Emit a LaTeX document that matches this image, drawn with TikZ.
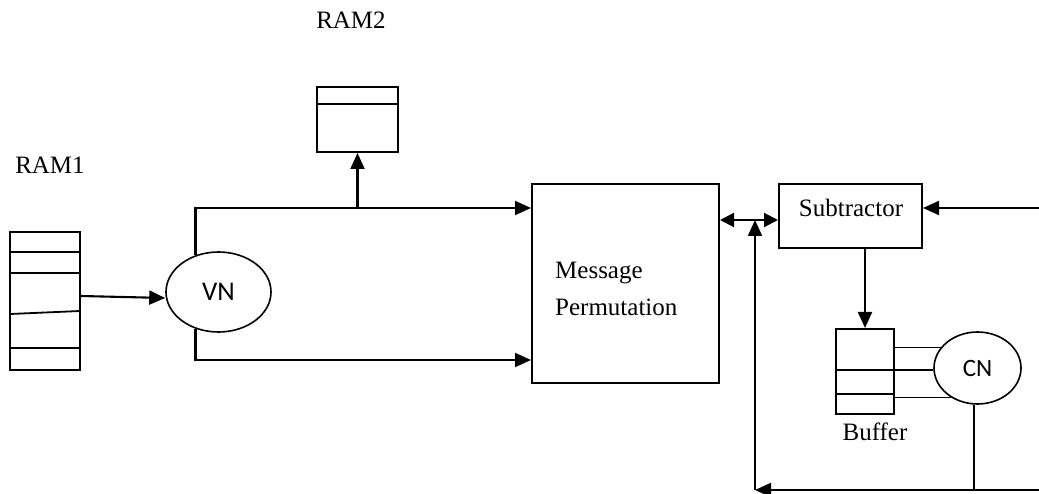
\documentclass[tikz,border=0pt]{standalone}
\usepackage{fontspec}
\setmainfont{Liberation Serif}
\newfontfamily\nodefont{Carlito}
\usetikzlibrary{arrows.meta,shapes.geometric}

\tikzset{
  block/.style={draw, line width=2pt, rectangle, inner sep=0pt},
  memcell/.style={line width=1.8pt},
  nodeell/.style={draw, line width=1.6pt, ellipse, inner sep=0pt},
  wire/.style={line width=2.1pt},
  arr/.style={wire, -{Triangle[length=16pt, width=14pt]}},
  darr/.style={wire, {Triangle[length=14pt, width=14pt]}-{Triangle[length=14pt, width=14pt]}},
  lbl/.style={font=\fontsize{25}{30}\selectfont, inner sep=0pt, anchor=base},
}

\begin{document}
\begin{tikzpicture}[x=1pt, y=-1pt]
  \useasboundingbox (0,0) rectangle (1039,494);

  % memories
  \node[block, minimum width=70pt, minimum height=138pt] (ram1) at (45,301) {};
  \node[block, minimum width=81pt, minimum height=65pt] (ram2) at (357.5,119.5) {};
  \draw[memcell] (10,252) -- (80,252);
  \draw[memcell] (10,273) -- (80,273);
  \draw[memcell] (10,314) -- (80,311);
  \draw[memcell] (10,348) -- (80,348);
  \draw[memcell] (317,104) -- (398,104);

  \node[lbl] (ram1lbl) at (50,174) {RAM1};
  \node[lbl] (ram2lbl) at (351,29) {RAM2};

  % variable node
  \node[nodeell, minimum width=105pt, minimum height=80pt,
        font=\nodefont\fontsize{27}{30}\selectfont] (vn) at (218.5,292) {VN};

  % permutation network
  \node[block, minimum width=187pt, minimum height=199pt] (mp) at (625.5,283.5) {};
  \node[lbl, anchor=base west] (mptxt1) at (555,279) {Message};
  \node[lbl, anchor=base west] (mptxt2) at (555,316) {Permutation};

  % subtractor
  \node[block, minimum width=143pt, minimum height=64pt] (sub) at (850.5,216) {};
  \node[lbl] (subtxt) at (851,217) {Subtractor};

  % buffer and check node
  \node[block, minimum width=58pt, minimum height=85pt] (buf) at (865,371.5) {};
  \draw[memcell] (836,370) -- (894,370);
  \draw[memcell] (836,394) -- (894,394);
  \node[lbl] (buflbl) at (875,440) {Buffer};

  \node[nodeell, minimum width=87pt, minimum height=72pt,
        font=\nodefont\fontsize{25}{30}\selectfont] (cn) at (977.5,368) {CN};

  % helper levels
  \coordinate (ytop) at (0,208);
  \coordinate (ybot) at (0,360);
  \coordinate (ymid) at (0,220);
  \coordinate (rin) at (1039,208);
  \coordinate (br) at (1039,490);
  \coordinate (bl) at (755,490);

  % connectors
  \draw[arr] ([yshift=5pt]ram1.east) -- ([yshift=-6pt]vn.west);
  \draw[arr] (vn.122) |- (mp.west |- ytop);
  \draw[arr] (vn.238) |- (mp.west |- ybot);
  \draw[arr] (ram2.south |- ytop) -- (ram2.south);
  \draw[darr] (mp.east |- ymid) -- (sub.west |- ymid);
  \draw[arr] (rin) -- (rin -| sub.east);
  \draw[arr] (buf.north |- sub.south) -- (buf.north);

  \draw[memcell] (cn.151 -| buf.east) -- (cn.151);
  \draw[memcell] (cn.183 -| buf.east) -- (cn.183);
  \draw[memcell] (cn.228 -| buf.east) -- (cn.228);

  \draw[memcell] (cn.265) -- (cn.265 |- br);
  \draw[arr] (br) -- (bl);
  \draw[arr] (bl) -- (bl |- ymid);
\end{tikzpicture}
\end{document}
